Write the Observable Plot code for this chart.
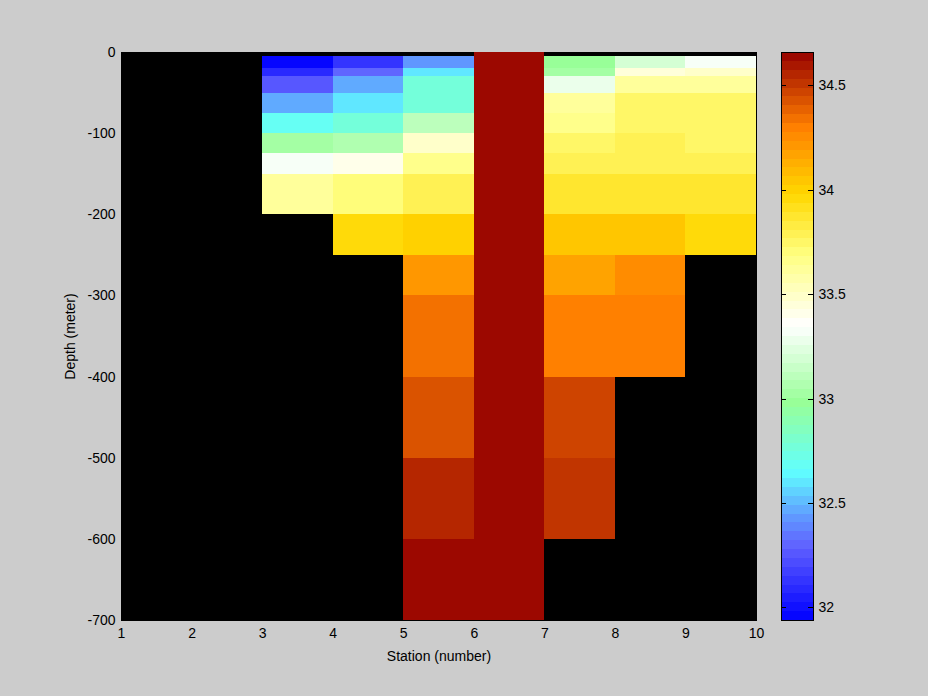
<!DOCTYPE html>
<html><head><meta charset="utf-8">
<script src="https://cdn.jsdelivr.net/npm/d3@7"></script>
<script src="https://cdn.jsdelivr.net/npm/@observablehq/plot@0.6"></script>
<style>
html,body{margin:0;padding:0;background:#cccccc;}
#fig{position:relative;width:928px;height:696px;background:#cccccc;overflow:hidden;}
#fig svg{position:absolute;left:0;top:0;}
</style></head><body><div id="fig"></div>
<script>
// Station positions (x) and depth bin edges (y, meters)
const stations = [1, 2, 3, 4, 5, 6, 7, 8, 9, 10];
const depthEdges = [0, -5, -20, -30, -50, -75, -100, -125, -150, -200, -250, -300, -400, -500, -600, -700];
const depthTicks = [0, -100, -200, -300, -400, -500, -600, -700];
const colorTicks = [32, 32.5, 33, 33.5, 34, 34.5];
const colorLimits = [31.94, 34.66];

// Salinity per station column (cell between station i and i+1), one value per depth bin; null = no data
const sal1 = [null, null, null, null, null, null, null, null, null, null, null, null, null, null, null];
const sal2 = [null, null, null, null, null, null, null, null, null, null, null, null, null, null, null];
const sal3 = [null, 31.95, 32.09, 32.26, 32.45, 32.70, 33.01, 33.32, 33.60, null, null, null, null, null, null];
const sal4 = [null, 32.12, 32.29, 32.48, 32.59, 32.78, 33.08, 33.41, 33.69, 33.94, null, null, null, null, null];
const sal5 = [null, 32.41, 32.59, 32.75, 32.78, 33.12, 33.48, 33.65, 33.80, 34.01, 34.23, 34.35, 34.44, 34.57, 34.66];
const sal6 = [34.70, 34.70, 34.70, 34.70, 34.70, 34.70, 34.70, 34.70, 34.70, 34.70, 34.70, 34.70, 34.70, 34.70, 34.70];
const sal7 = [null, 32.98, 33.01, 33.27, 33.60, 33.65, 33.75, 33.80, 33.89, 34.05, 34.17, 34.30, 34.48, 34.53, null];
const sal8 = [null, 33.21, 33.43, 33.60, 33.74, 33.74, 33.77, 33.80, 33.89, 34.05, 34.24, 34.30, null, null, null];
const sal9 = [null, 33.32, 33.48, 33.60, 33.74, 33.75, 33.75, 33.80, 33.86, 33.94, null, null, null, null, null];
const salinity = [sal1, sal2, sal3, sal4, sal5, sal6, sal7, sal8, sal9];

// Colormap anchors (value, colour); quantised to 64 levels like the original
const cmapValues = [31.94, 32.29, 32.45, 32.65, 32.98, 33.35, 33.69, 33.98, 34.30, 34.66];
const cmapColors = ["#0000ff", "#6060ff", "#60a0ff", "#60ffff", "#98ff98", "#ffffff", "#ffff80", "#ffd700", "#ff8000", "#960000"];
const nLevels = 64;

const anchorScale = d3.scaleLinear().domain(cmapValues).range(cmapColors).interpolate(d3.interpolateRgb).clamp(true);
const step = (colorLimits[1] - colorLimits[0]) / nLevels;
const cmap = d3.range(nLevels).map(k => anchorScale(colorLimits[0] + (k + 0.5) * step));
const colorScale = {
  type: "linear",
  domain: colorLimits,
  clamp: true,
  interpolate: t => cmap[Math.max(0, Math.min(nLevels - 1, Math.floor(t * nLevels)))]
};

const cells = [];
salinity.forEach((col, i) => {
  col.forEach((v, j) => {
    if (v != null) cells.push({x1: stations[i], x2: stations[i + 1], y1: depthEdges[j], y2: depthEdges[j + 1], v});
  });
});

const levels = d3.range(nLevels).map(k => ({
  y1: colorLimits[0] + k * step,
  y2: colorLimits[0] + (k + 1) * step,
  v: colorLimits[0] + (k + 0.5) * step
}));

const font = "'Liberation Sans', Arial, Helvetica, sans-serif";
const style = {background: "transparent", color: "black", fontFamily: font, fontSize: "14px", overflow: "visible"};

const main = Plot.plot({
  width: 928, height: 696,
  marginLeft: 121, marginRight: 172, marginTop: 52, marginBottom: 76,
  style,
  x: {domain: [1, 10]},
  y: {domain: [-700, 0]},
  color: colorScale,
  marks: [
    Plot.frame({fill: "black", stroke: "black"}),
    Plot.rect(cells, {x1: "x1", x2: "x2", y1: "y1", y2: "y2", fill: "v", shapeRendering: "crispEdges"}),
    Plot.axisX({ticks: stations, tickSize: 0, tickPadding: 8, tickFormat: d => String(d),
      label: "Station (number)", labelAnchor: "center", labelArrow: "none", labelOffset: 40}),
    Plot.axisY({ticks: depthTicks, tickSize: 0, tickPadding: 6, tickFormat: d => String(d),
      label: "Depth (meter)", labelAnchor: "center", labelArrow: "none", labelOffset: 56})
  ]
});

const bar = Plot.plot({
  width: 928, height: 696,
  marginLeft: 781, marginRight: 115, marginTop: 52, marginBottom: 76,
  style,
  x: {domain: [0, 1], axis: null},
  y: {domain: colorLimits},
  color: colorScale,
  marks: [
    Plot.rect(levels, {x1: 0, x2: 1, y1: "y1", y2: "y2", fill: "v", shapeRendering: "crispEdges"}),
    Plot.ruleY(colorTicks, {x1: 0, x2: 0.16, stroke: "black", shapeRendering: "crispEdges"}),
    Plot.ruleY(colorTicks, {x1: 0.84, x2: 1, stroke: "black", shapeRendering: "crispEdges"}),
    Plot.frame({stroke: "black", shapeRendering: "crispEdges"}),
    Plot.axisY({anchor: "right", ticks: colorTicks, tickSize: 0, tickPadding: 5, tickFormat: d => String(d), label: null})
  ]
});

const fig = document.getElementById("fig");
fig.appendChild(main);
fig.appendChild(bar);
</script>
</body></html>
